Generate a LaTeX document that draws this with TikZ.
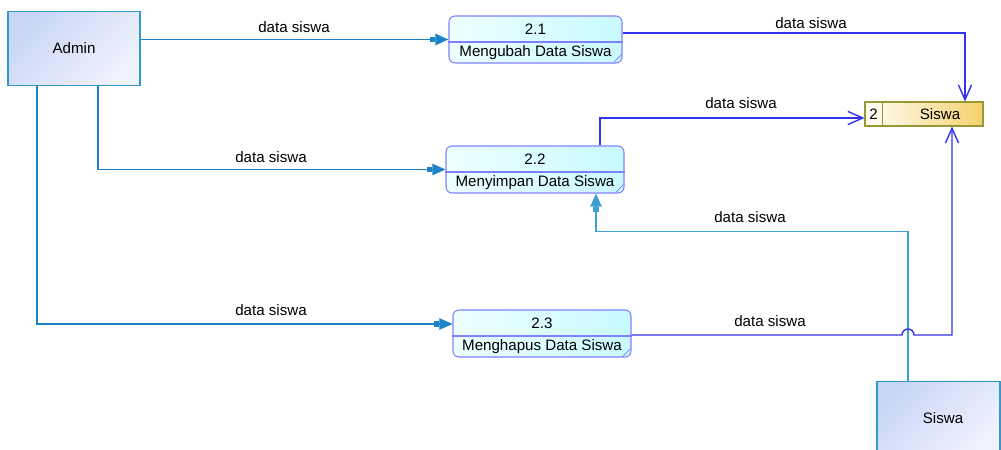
\documentclass[tikz,border=0pt]{standalone}
\usepackage{fontspec}
\setmainfont{Liberation Sans}
\usetikzlibrary{arrows.meta,calc}
\definecolor{entline}{RGB}{51,153,204}
\definecolor{entA}{RGB}{200,214,245}
\definecolor{entB}{RGB}{240,242,253}
\definecolor{procline}{RGB}{128,128,255}
\definecolor{procA}{RGB}{238,255,255}
\definecolor{procB}{RGB}{200,250,255}
\definecolor{storeline}{RGB}{153,153,51}
\definecolor{storeA}{RGB}{255,255,248}
\definecolor{storeB}{RGB}{245,208,110}
\definecolor{flowA}{RGB}{30,130,200}
\definecolor{flowB}{RGB}{51,51,238}
\definecolor{flowC}{RGB}{60,160,210}
\begin{document}
\begin{tikzpicture}[x=0.2mm,y=-0.2mm,font=\fontsize{8.6}{10}\selectfont,
  entity/.style={draw=entline,line width=0.8pt,left color=entA,right color=entB,shading angle=45,minimum width=#1,minimum height=14.7mm,inner sep=0pt},
  proc/.style={draw=procline,line width=0.6pt,rounded corners=1.2mm,left color=procA,right color=procB,minimum width=#1,minimum height=9.4mm,inner sep=0pt},
  store/.style={draw=storeline,line width=0.6pt,left color=storeA,right color=storeB,minimum width=23.6mm,minimum height=4.8mm,inner sep=0pt},
  flow/.style={draw=flowA,line width=0.8pt,-{Rectangle[length=3.2pt,width=3pt]Triangle[length=7.5pt,width=6.5pt]}},
  sflow/.style={draw=flowB,line width=0.8pt,-{Straight Barb[length=8.5pt,width=7.5pt]}}]
\useasboundingbox (0,0) rectangle (1001,450);
\node[entity=26.4mm] (adm) at (74,48.5) {Admin};
\node[entity=24.6mm] (ssw) at (938.5,418) {\hspace*{1.8mm}Siswa};
\node[proc=34.6mm] (p21) at (535.5,39.5) {};
\node[proc=35.6mm] (p22) at (535,169.5) {};
\node[proc=35.6mm] (p23) at (542,333.5) {};
\node[store] (ds) at (924,114) {};
\foreach \p/\n/\t in {p21/2.1/Mengubah Data Siswa,p22/2.2/Menyimpan Data Siswa,p23/2.3/Menghapus Data Siswa} {
  \draw[procline,line width=0.6pt] ($(\p.west)+(0,2.5)$) -- ($(\p.east)+(0,2.5)$);
  \draw[procline,line width=0.4pt] ($(\p.south east)+(-9,-1)$) -- ($(\p.south east)+(-1,-9)$);
  \node (\p n) at ($(\p)+(0,-10.5)$) {\n};
  \node (\p t) at ($(\p)+(0,13)$) {\t};
}
\draw[storeline,line width=0.6pt] ($(ds.north west)+(18,0)$) -- ($(ds.south west)+(18,0)$);
\node (dsn) at ($(ds.west)+(9,0)$) {2};
\node (dst) at ($(ds)+(16,0)$) {Siswa};
\coordinate (hop) at ($(ssw.north)+(-30.5,0)$);
\draw[flow] (adm.east |- p21.west) -- (p21.west);
\draw[flow] ($(adm.south)+(24,0)$) |- (p22.west);
\draw[flow] ($(adm.south)+(-37,0)$) |- ($(p23.west)+(0,-9.5)$);
\draw[flow,draw=flowC] (hop) |- ($(p22.south)+(61,38)$) -- ($(p22.south)+(61,0)$);
\draw[sflow] ($(p21.east)+(0,-6.5)$) -| ($(ds.north)+(41,0)$);
\draw[sflow] ($(p22.north)+(65,0)$) |- ($(ds.west)+(0,4)$);
\draw[sflow] ($(p23.east)+(0,1.5)$) -- ($(hop |- p23.east)+(-6,1.5)$) arc (180:360:6) -| ($(ds.south)+(28,0)$);
\node (l1) at (294,27) {data siswa};
\node (l2) at (271,157) {data siswa};
\node (l3) at (271,310) {data siswa};
\node (l4) at (811,23) {data siswa};
\node (l5) at (741,103) {data siswa};
\node (l6) at (750,217) {data siswa};
\node (l7) at (770,321) {data siswa};
\end{tikzpicture}
\end{document}
